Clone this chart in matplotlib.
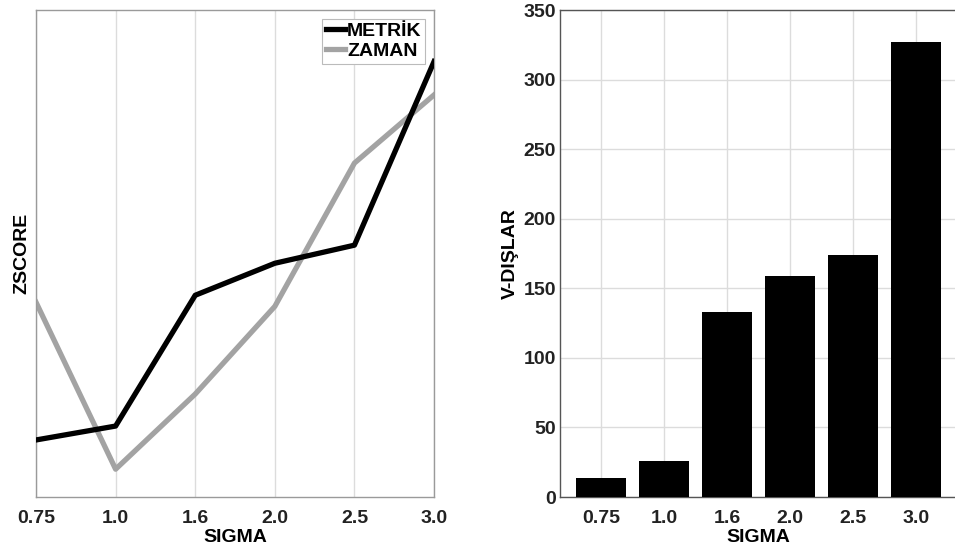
import matplotlib
matplotlib.use("Agg")
from matplotlib import pyplot as plt
import numpy as np

sigma_labels = ["0.75", "1.0", "1.6", "2.0", "2.5", "3.0"]
zscore_metrik = [-1.09, -0.99, -0.05, 0.18, 0.31, 1.63]
zscore_zaman = [-0.10, -1.30, -0.76, -0.13, 0.90, 1.39]
v_dislar = [14, 26, 133, 159, 174, 327]

plt.rcParams['font.family'] = ['Liberation Sans', 'DejaVu Sans']
plt.rcParams['font.weight'] = 'bold'
plt.rcParams['font.size'] = 14

grid_color = '#dcdcdc'

fig = plt.figure(figsize=(9.55, 5.57), dpi=100)
x = np.arange(len(sigma_labels))

# left: z-scores of both metrics
ax1 = fig.add_axes([0.0377, 0.1077, 0.4168, 0.8743])
ax1.plot(x, zscore_metrik, color='black', lw=3.8, label='METRİK', zorder=3)
ax1.plot(x, zscore_zaman, color='#a3a3a3', lw=3.8, label='ZAMAN', zorder=2)
ax1.set_xlim(0, len(x) - 1)
ax1.set_ylim(-1.5, 2.0)
ax1.set_xticks(x)
ax1.set_xticklabels(sigma_labels, fontweight='bold')
ax1.set_yticks([])
ax1.grid(axis='x', color=grid_color, lw=1)
ax1.set_axisbelow(True)
ax1.set_xlabel('SIGMA', fontweight='bold', labelpad=2)
ax1.set_ylabel('ZSCORE', fontweight='bold', labelpad=4)
ax1.tick_params(axis='x', direction='in', length=0, pad=9, colors='#222222')
leg = ax1.legend(loc='upper right', handlelength=1.0, handletextpad=0.1,
                 borderpad=0.2, labelspacing=0.1, fancybox=False,
                 framealpha=1, borderaxespad=0.45, prop={'weight': 'bold', 'size': 14})
leg.get_frame().set_edgecolor('#bbbbbb')
leg.get_frame().set_linewidth(0.8)
for s in ax1.spines.values():
    s.set_color('#9a9a9a')
    s.set_linewidth(1.0)

# right: bar counts
ax2 = fig.add_axes([0.5864, 0.1077, 0.4157, 0.8743])
ax2.bar(x, v_dislar, width=0.8, color='black', zorder=3)
ax2.set_xlim(-0.65, len(x) - 0.35)
ax2.set_ylim(0, 350)
ax2.set_yticks(np.arange(0, 351, 50))
ax2.set_xticks(x)
ax2.set_xticklabels(sigma_labels, fontweight='bold')
ax2.grid(True, color=grid_color, lw=1)
ax2.set_axisbelow(True)
ax2.set_xlabel('SIGMA', fontweight='bold', labelpad=2)
ax2.set_ylabel('V-DIŞLAR', fontweight='bold', labelpad=3)
ax2.tick_params(axis='both', direction='in', length=0, colors='#222222')
ax2.tick_params(axis='x', pad=9)
ax2.tick_params(axis='y', pad=3)
for s in ax2.spines.values():
    s.set_color('#555555')
    s.set_linewidth(1.0)

fig.savefig('out.png', dpi=100)
